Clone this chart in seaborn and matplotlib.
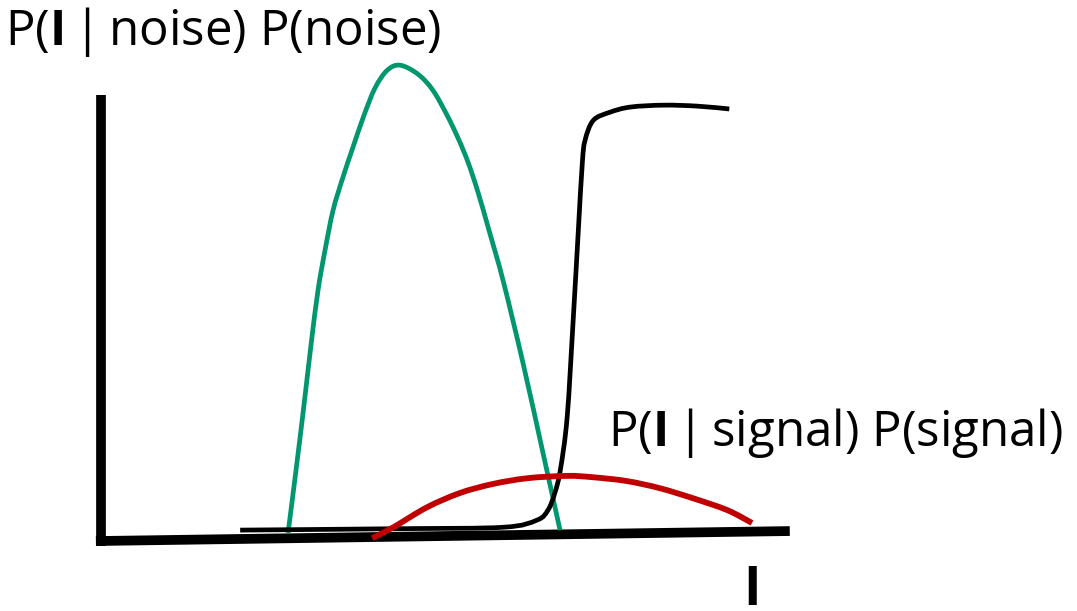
import matplotlib
matplotlib.use("Agg")
import matplotlib.pyplot as plt
from matplotlib.path import Path
from matplotlib.patches import PathPatch
import seaborn as sns
import numpy as np

sns.set_theme(style="white")
plt.rcParams["font.family"] = ["Open Sans", "DejaVu Sans"]
plt.rcParams["mathtext.fontset"] = "custom"
plt.rcParams["mathtext.rm"] = "Open Sans"
plt.rcParams["mathtext.bf"] = "Open Sans:bold"
plt.rcParams["text.color"] = "black"

# Intensity I (arbitrary units) and scaled likelihoods
noise_I = [2.737, 2.853, 2.969, 3.071, 3.173, 3.275, 3.392, 3.537, 3.683, 3.843,
           4.003, 4.178, 4.367, 4.629, 4.847, 5.051, 5.211, 5.357, 5.502, 5.662,
           5.866, 6.157, 6.448, 6.696]
noise_p = [0.017, 0.149, 0.286, 0.412, 0.527, 0.611, 0.695, 0.765, 0.828, 0.895,
           0.952, 0.989, 1.000, 0.981, 0.947, 0.895, 0.847, 0.796, 0.733, 0.653,
           0.548, 0.374, 0.185, 0.023]

signal_I = [3.96, 4.27, 4.76, 5.24, 5.72, 6.22, 6.80, 7.18, 7.67, 8.15, 8.63, 9.13, 9.49]
signal_p = [0.006, 0.029, 0.071, 0.101, 0.120, 0.132, 0.137, 0.134, 0.126, 0.111,
            0.090, 0.065, 0.038]

posterior_I = [2.04, 4.37, 5.87, 6.36, 6.52, 6.62, 6.70, 6.80, 6.89, 6.96, 7.02,
               7.06, 7.18, 7.42, 7.72, 8.20, 8.69, 9.16]
posterior_p = [0.023, 0.026, 0.029, 0.044, 0.065, 0.101, 0.149, 0.261, 0.471, 0.647,
               0.794, 0.842, 0.884, 0.901, 0.912, 0.916, 0.914, 0.908]

# Hand-drawn axes
x_axis_I = [-0.06, 10.04]
x_axis_p = [0.0, 0.021]
y_axis_I = [0.015, 0.015]
y_axis_p = [-0.01, 0.937]

labels = {
    "noise": r"P($\mathbf{I}\,$|$\,$noise) P(noise)",
    "signal": r"P($\mathbf{I}\,$|$\,$signal) P(signal)",
    "x": r"$\mathbf{I}$",
}


def smooth_path(xs, ys):
    """Catmull-Rom curve through the points, as cubic Bezier segments."""
    pts = np.column_stack([xs, ys]).astype(float)
    verts = [pts[0]]
    codes = [Path.MOVETO]
    n = len(pts)
    for i in range(n - 1):
        p0 = pts[i - 1] if i > 0 else pts[i]
        p1, p2 = pts[i], pts[i + 1]
        p3 = pts[i + 2] if i + 2 < n else pts[i + 1]
        c1 = p1 + (p2 - p0) / 6.0
        c2 = p2 - (p3 - p1) / 6.0
        verts += [c1, c2, p2]
        codes += [Path.CURVE4] * 3
    return Path(verts, codes)


fig = plt.figure(figsize=(10.77, 6.11), dpi=100)
ax = fig.add_axes([0, 0, 1, 1])

sns.lineplot(x=x_axis_I, y=x_axis_p, ax=ax, color="black", linewidth=7, sort=False,
             estimator=None)
ax.plot(y_axis_I, y_axis_p, color="black", linewidth=7, solid_capstyle="butt")
ax.lines[0].set_solid_capstyle("butt")

for xs, ys, col, lw, z in [
    (noise_I, noise_p, "#00966E", 3.4, 3),
    (posterior_I, posterior_p, "black", 3.4, 4),
    (signal_I, signal_p, "#C00000", 4.2, 5),
]:
    ax.add_patch(PathPatch(smooth_path(xs, ys), facecolor="none", edgecolor=col,
                           linewidth=lw, capstyle="butt", joinstyle="round", zorder=z))

ax.set_xlim(-1.456, 14.221)
ax.set_ylim(-0.147, 1.137)
ax.set_axis_off()

fig.text(5 / 1077, 1 - 45 / 611, labels["noise"], fontsize=35.5, ha="left", va="baseline")
fig.text(608 / 1077, 1 - 446 / 611, labels["signal"], fontsize=35.5, ha="left", va="baseline")
fig.text(750 / 1077, 1 - 605 / 611, labels["x"], fontsize=38, ha="center", va="baseline")

fig.savefig("out.png", dpi=100)
